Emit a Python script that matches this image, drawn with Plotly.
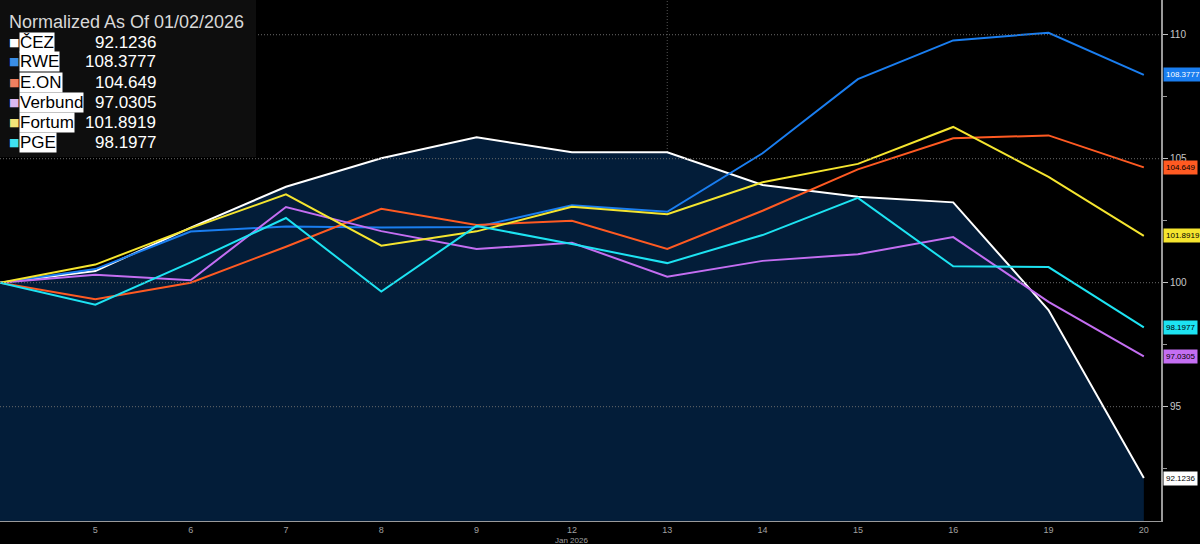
import plotly.graph_objects as go

days = ["2", "5", "6", "7", "8", "9", "12", "13", "14", "15", "16", "19", "20"]
tick_days = days[1:]
month_label = "Jan 2026"
month_under = "12"

names = ["ČEZ", "RWE", "E.ON", "Verbund", "Fortum", "PGE"]
cez = [100, 100.47, 102.22, 103.87, 105.02, 105.86, 105.26, 105.26, 103.94, 103.47, 103.24, 98.9, 92.1236]
rwe = [100, 100.55, 102.06, 102.27, 102.23, 102.25, 103.12, 102.86, 105.22, 108.21, 109.77, 110.08, 108.3777]
eon = [100, 99.33, 100.0, 101.45, 102.98, 102.33, 102.5, 101.36, 102.9, 104.57, 105.82, 105.94, 104.649]
verbund = [100, 100.32, 100.10, 103.05, 102.08, 101.36, 101.61, 100.24, 100.88, 101.15, 101.84, 99.23, 97.0305]
fortum = [100, 100.73, 102.2, 103.56, 101.49, 102.07, 103.06, 102.76, 104.05, 104.79, 106.28, 104.27, 101.8919]
pge = [100, 99.11, 100.82, 102.61, 99.64, 102.29, 101.56, 100.79, 101.92, 103.42, 100.66, 100.63, 98.1977]
last_labels = ["92.1236", "108.3777", "104.649", "97.0305", "101.8919", "98.1977"]

series = [cez, rwe, eon, verbund, fortum, pge]
colors = ["#ffffff", "#1a7ef0", "#ff5a22", "#c46ef2", "#f5e52f", "#1de3f2"]
legend_sq = ["#ffffff", "#3a8ee6", "#f08060", "#dcb8f0", "#f2e478", "#40e2f0"]
tag_text = ["#000000", "#ffffff", "#000000", "#000000", "#000000", "#000000"]

y_ticks = [95, 100, 105, 110]
y_minor = [92.5, 97.5, 102.5, 107.5]
v_grid = ["7", "15"]

fig = go.Figure()

fig.add_trace(go.Scatter(x=days, y=cez, mode="lines", fill="tozeroy",
                         fillcolor="#031d39", line=dict(color="#ffffff", width=2),
                         hoverinfo="skip", showlegend=False))
for s, c in list(zip(series, colors))[1:]:
    fig.add_trace(go.Scatter(x=days, y=s, mode="lines", line=dict(color=c, width=2),
                             hoverinfo="skip", showlegend=False))

shapes = []
for v in y_ticks:
    shapes.append(dict(type="line", xref="paper", x0=0, x1=1, yref="y", y0=v, y1=v,
                       line=dict(color="#6a6a6a", width=1, dash="1px,2px"), layer="above"))
for d in v_grid:
    shapes.append(dict(type="line", xref="x", x0=d, x1=d, yref="paper", y0=0, y1=1,
                       line=dict(color="#555555", width=1, dash="1px,2px"), layer="below"))
shapes.append(dict(type="rect", xref="paper", yref="paper", x0=0, x1=256 / 1161,
                   y0=1 - 157 / 521, y1=1, fillcolor="#0e0e0e", line=dict(width=0), layer="above"))

annotations = []
annotations.append(dict(xref="paper", yref="paper", x=7 / 1161, y=1 - 22 / 521,
                        xanchor="left", yanchor="middle", showarrow=False,
                        text="Normalized As Of 01/02/2026",
                        font=dict(family="Liberation Sans", size=18, color="#d8d8d8")))
row_y = [42, 62, 82, 102, 122, 142]
for i, n in enumerate(names):
    yy = 1 - row_y[i] / 521
    annotations.append(dict(xref="paper", yref="paper", x=7 / 1161, y=yy,
                            xanchor="left", yanchor="middle", showarrow=False,
                            text="■", font=dict(family="DejaVu Sans", size=11, color=legend_sq[i])))
    annotations.append(dict(xref="paper", yref="paper", x=19 / 1161, y=yy,
                            xanchor="left", yanchor="middle", showarrow=False,
                            text=n, bgcolor="#ffffff", borderpad=0,
                            font=dict(family="Liberation Sans", size=17, color="#000000")))
    annotations.append(dict(xref="paper", yref="paper", x=158 / 1161, y=yy,
                            xanchor="right", yanchor="middle", showarrow=False,
                            text=last_labels[i],
                            font=dict(family="Liberation Sans", size=17, color="#ffffff")))

for i, s in enumerate(series):
    annotations.append(dict(xref="paper", yref="y", x=1.0015, y=s[-1],
                            xanchor="left", yanchor="middle", showarrow=False,
                            text=last_labels[i], bgcolor=colors[i], borderpad=2,
                            font=dict(family="Liberation Sans", size=8,
                                      color=tag_text[i])))

annotations.append(dict(xref="x", yref="paper", x=days.index(month_under), y=0, yshift=-13,
                        xanchor="center", yanchor="top", showarrow=False,
                        text=month_label,
                        font=dict(family="Liberation Sans", size=8, color="#a0a0a0")))

fig.update_layout(
    width=1200, height=544,
    margin=dict(l=0, r=39, t=0, b=23),
    paper_bgcolor="#000000", plot_bgcolor="#000000",
    shapes=shapes, annotations=annotations,
    showlegend=False,
    xaxis=dict(type="category", categoryorder="array", categoryarray=days,
               range=[0, 12.18], tickvals=tick_days, ticktext=tick_days,
               showgrid=False, zeroline=False, showline=True, linecolor="#9a9a9a", linewidth=1,
               ticks="",
               tickfont=dict(family="Liberation Sans", size=9, color="#a0a0a0")),
    yaxis=dict(side="right", range=[90.39, 111.40], tickvals=y_ticks,
               showgrid=False, zeroline=False, showline=True, linecolor="#9a9a9a", linewidth=2,
               ticks="outside", ticklen=5, tickcolor="#c0c0c0",
               minor=dict(tickvals=y_minor, ticks="outside", ticklen=4, tickcolor="#9a9a9a"),
               tickfont=dict(family="Liberation Sans", size=10, color="#c8c8c8")),
)

fig.write_html("out.html", config={"displayModeBar": False},
               post_script="document.body.style.margin='0';document.body.style.background='#000';")
